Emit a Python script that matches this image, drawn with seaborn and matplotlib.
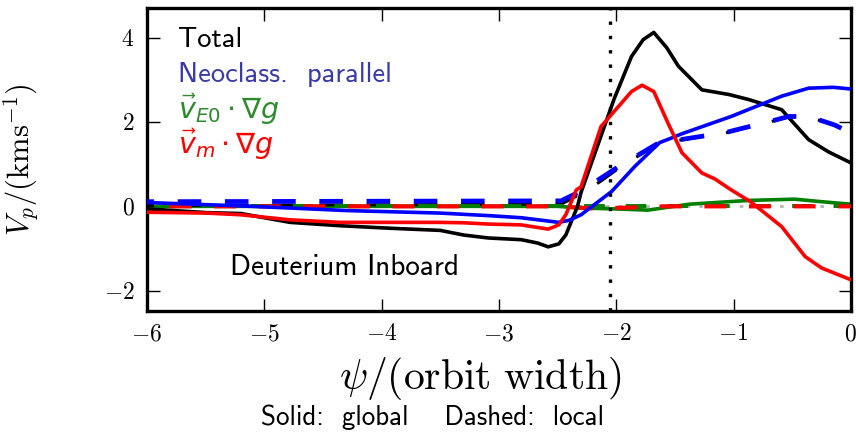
import numpy as np
import pandas as pd
import matplotlib
matplotlib.use("Agg")
import matplotlib.pyplot as plt
from matplotlib.ticker import FuncFormatter
import seaborn as sns

# ---------------- data ----------------
total_global_x = [-6.0, -5.49, -5.2, -4.78, -4.35, -3.92, -3.5, -3.3, -3.09, -2.81, -2.67, -2.58,
                  -2.49, -2.43, -2.33, -2.30, -2.02, -1.87, -1.77, -1.68, -1.57, -1.47, -1.27,
                  -1.04, -0.87, -0.59, -0.36, -0.19, 0.0]
total_global_y = [-0.06, -0.15, -0.17, -0.38, -0.46, -0.52, -0.57, -0.68, -0.75, -0.79, -0.87, -0.96,
                  -0.89, -0.68, 0.0, 0.33, 2.53, 3.55, 3.95, 4.12, 3.76, 3.32, 2.76,
                  2.65, 2.53, 2.29, 1.58, 1.29, 1.03]

neo_global_x = [-6.0, -5.2, -4.78, -4.3, -3.5, -3.09, -2.81, -2.49, -2.40, -2.30, -2.04, -1.84,
                -1.63, -1.5, -1.44, -1.02, -0.59, -0.36, -0.15, 0.0]
neo_global_y = [0.09, 0.01, -0.04, -0.10, -0.16, -0.22, -0.27, -0.38, -0.33, -0.20, 0.35, 0.95,
                1.51, 1.65, 1.72, 2.13, 2.61, 2.80, 2.82, 2.78]

e0_global_x = [-6.0, -3.0, -2.5, -2.3, -2.02, -1.73, -1.38, -0.87, -0.48, -0.25, 0.0]
e0_global_y = [0.0, 0.0, 0.0, -0.04, -0.06, -0.09, 0.05, 0.14, 0.17, 0.11, 0.05]

m_global_x = [-6.0, -5.49, -5.2, -4.78, -4.35, -3.92, -3.5, -3.3, -3.09, -2.81, -2.58, -2.49, -2.43,
              -2.34, -2.30, -2.13, -1.87, -1.78, -1.68, -1.56, -1.44, -1.27, -1.16, -1.02,
              -0.85, -0.59, -0.39, -0.25, 0.0]
m_global_y = [-0.14, -0.16, -0.20, -0.32, -0.38, -0.38, -0.38, -0.39, -0.42, -0.44, -0.54, -0.44, -0.20,
              0.39, 0.46, 1.89, 2.72, 2.87, 2.72, 1.98, 1.27, 0.79, 0.65, 0.39,
              0.10, -0.48, -1.19, -1.46, -1.74]

neo_local_x = [-6.0, -2.47, -2.28, -2.13, -1.98, -1.81, -1.64, -1.27, -1.08, -0.91, -0.73, -0.53,
               -0.36, -0.14, 0.0]
neo_local_y = [0.11, 0.13, 0.39, 0.67, 0.94, 1.22, 1.50, 1.66, 1.74, 1.86, 1.98, 2.13,
               2.13, 1.93, 1.74]

total_local_x = [-6.0, -2.47, -2.28, -2.13, -1.98, -1.81, -1.64, -1.27, -1.08, -0.91, -0.73, -0.53,
                 -0.36, -0.14, 0.0]
total_local_y = [0.02, 0.05, 0.33, 0.60, 0.90, 1.20, 1.49, 1.65, 1.73, 1.85, 1.97, 2.12,
                 2.12, 1.92, 1.73]

e0_local_x = [-6.0, 0.0]
e0_local_y = [0.0, 0.0]

m_local_x = [-6.0, -2.5, -2.2, -1.9, -1.6, 0.0]
m_local_y = [0.0, 0.0, -0.05, -0.03, 0.0, 0.0]

separatrix_x = -2.05

xticks = [-6, -5, -4, -3, -2, -1, 0]
yticks = [-2, 0, 2, 4]

legend_labels = ["Total", "Neoclass.  parallel", r"$\vec{v}_{E0}\cdot\nabla g$", r"$\vec{v}_{m}\cdot\nabla g$"]
legend_colors = ["black", "#3a3aa8", "#2e8b2e", "red"]

# ---------------- figure ----------------
sns.set_theme(style="ticks")
plt.rcParams["mathtext.fontset"] = "cm"
plt.rcParams["font.family"] = ["cmss10", "DejaVu Sans"]
plt.rcParams["axes.unicode_minus"] = True

fig = plt.figure(figsize=(8.56, 4.36), dpi=100)
ax = fig.add_axes([0.1717, 0.2867, 0.8223, 0.695])

def df(x, y):
    return pd.DataFrame({"x": x, "y": y})

LW = 2.6
ax.axhline(0, color="#bbbbbb", lw=2.2, linestyle=(0, (6, 3, 1.2, 3)), zorder=1)

sns.lineplot(data=df(e0_global_x, e0_global_y), x="x", y="y", ax=ax, color="green", lw=LW, zorder=2)
# black dashed drawn with the same (absolute) dash pattern as the blue dashed so it hides beneath it
sns.lineplot(data=df(total_local_x, total_local_y), x="x", y="y", ax=ax, color="black", lw=2.2,
             linestyle=(3.5 * 3.4 / 2.2, (5 * 3.4 / 2.2, 5 * 3.4 / 2.2)), zorder=2)
sns.lineplot(data=df(e0_local_x, e0_local_y), x="x", y="y", ax=ax, color="green", lw=2.8,
             linestyle=(5.3, (5.3, 5.4)), zorder=3)
sns.lineplot(data=df(m_local_x, m_local_y), x="x", y="y", ax=ax, color="red", lw=3.0,
             linestyle=(5.3, (5.3, 5.4)), zorder=3)
sns.lineplot(data=df(total_global_x, total_global_y), x="x", y="y", ax=ax, color="black", lw=LW, zorder=4)
sns.lineplot(data=df(neo_global_x, neo_global_y), x="x", y="y", ax=ax, color="blue", lw=LW, zorder=5)
sns.lineplot(data=df(neo_local_x, neo_local_y), x="x", y="y", ax=ax, color="blue", lw=3.4,
             linestyle=(3.5, (5, 5)), zorder=6)
sns.lineplot(data=df(m_global_x, m_global_y), x="x", y="y", ax=ax, color="red", lw=LW, zorder=7)

ax.axvline(separatrix_x, color="black", lw=2.4, linestyle=(0, (1, 3.3)), zorder=8)

ax.set_xlim(-6, 0)
ax.set_ylim(-2.48, 4.7)
ax.set_xticks(xticks)
ax.set_yticks(yticks)
fmt = FuncFormatter(lambda v, p: f"${v:g}$")
ax.xaxis.set_major_formatter(fmt)
ax.yaxis.set_major_formatter(fmt)
ax.tick_params(direction="in", length=9, width=1.0, top=True, right=True,
               labelsize=17, pad=9, color="black", labelcolor="black")
for s in ax.spines.values():
    s.set_linewidth(2.4)
    s.set_color("black")
    s.set_visible(True)
ax.set_facecolor("white")
ax.grid(False)

ax.set_xlabel(r"$\psi/(\mathrm{orbit\ width})$", fontsize=30, color="black")
ax.set_ylabel(r"$V_p/(\mathrm{kms}^{-1})$", fontsize=22, color="black")
ax.xaxis.set_label_coords(0.473, -0.145)
ax.yaxis.set_label_coords(-0.15, 0.5)

ys = [3.95, 3.12, 2.29, 1.46]
for lab, col, yy in zip(legend_labels, legend_colors, ys):
    ax.text(-5.735, yy, lab, color=col, fontsize=20.5, va="center", ha="left",
            math_fontfamily="dejavusans")

ax.text(-5.29, -1.44, "Deuterium Inboard", color="black", fontsize=21, va="center", ha="left")
fig.text(0.505, 0.042, "Solid:  global    Dashed:  local", color="black", fontsize=19.5,
         ha="center", va="center")

fig.savefig("out.png", dpi=100, facecolor="white")
